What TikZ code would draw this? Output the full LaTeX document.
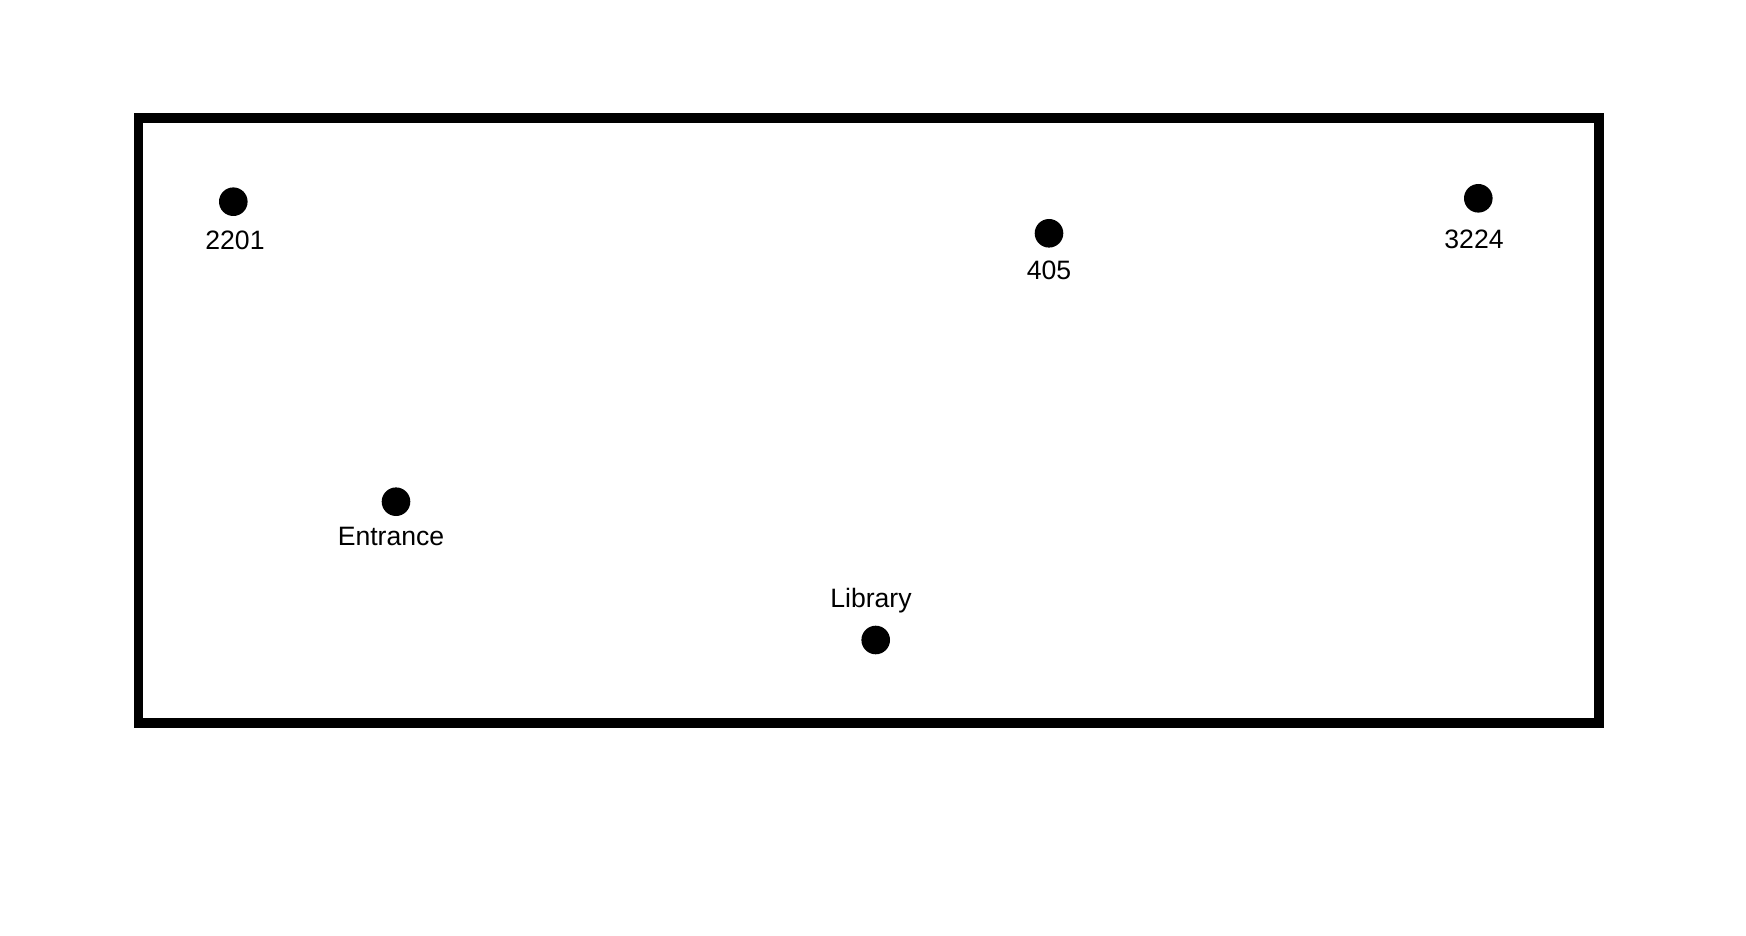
\documentclass[tikz,border=0pt]{standalone}
\usepackage{fontspec}
\setmainfont{Liberation Sans}

\begin{document}
\begin{tikzpicture}[
  x=0.5pt, y=-0.5pt,
  spot/.style={circle, fill=black, inner sep=0pt, minimum size=14.3pt},
  lbl/.style={anchor=base, inner sep=0pt, font=\fontsize{13.3pt}{16pt}\selectfont},
  wall/.style={draw=black, line width=4.65pt}
]
\useasboundingbox (0,0) rectangle (1746,936);

% building outline
\draw[wall] (138.7,118) rectangle (1599,723);

% places
\node[spot] (room2201) at (233.3,201.7) {};
\node[spot] (room405) at (1049,233.3) {};
\node[spot] (room3224) at (1478.3,198.3) {};
\node[spot] (entrance) at (396,501.7) {};
\node[spot] (library) at (875.7,640) {};

% names
\node[lbl] (room2201lbl) at (235,250) {2201};
\node[lbl] (room405lbl) at (1049,279.3) {405};
\node[lbl] (room3224lbl) at (1474,248.3) {3224};
\node[lbl] (entrancelbl) at (391,545) {Entrance};
\node[lbl] (librarylbl) at (871,607.7) {Library};

\end{tikzpicture}
\end{document}
